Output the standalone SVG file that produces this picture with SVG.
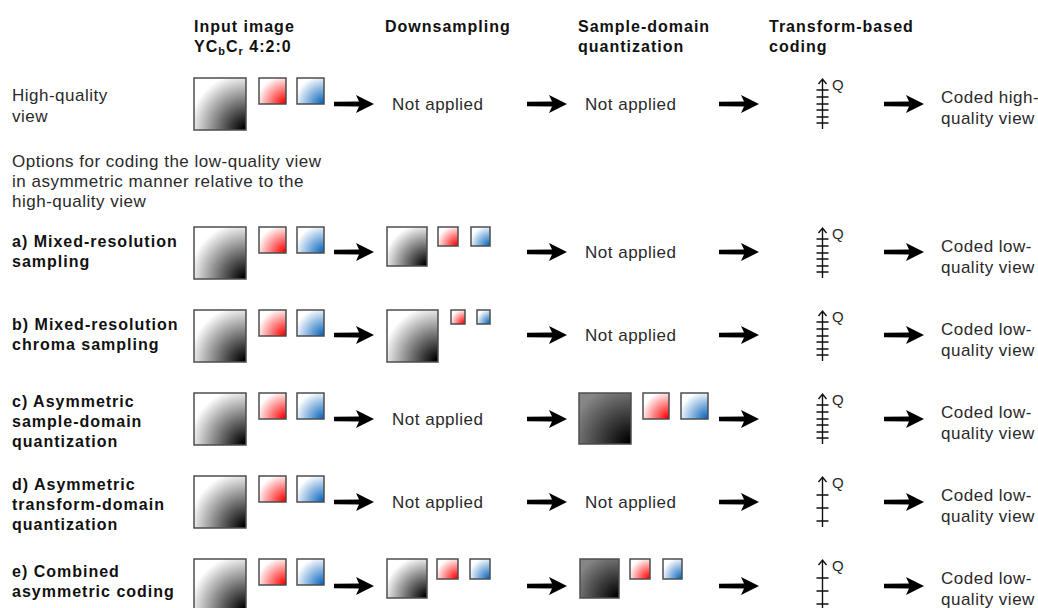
<svg xmlns="http://www.w3.org/2000/svg" width="1038" height="608" viewBox="0 0 1038 608">
  <style>
    .b { font-family: "Liberation Sans", Arial, sans-serif; font-weight: bold; font-size: 16px; letter-spacing: 1px; fill: #111; }
    .r { font-family: "Liberation Sans", Arial, sans-serif; font-size: 17px; letter-spacing: 0.5px; fill: #2a2a2a; }
    .q { font-family: "Liberation Sans", Arial, sans-serif; font-size: 15px; fill: #2a2a2a; }
    .sq { stroke: #4d4d4d; stroke-width: 1.5; }
    .lum { fill: url(#gLum); }
    .cr { fill: url(#gRed); }
    .cb { fill: url(#gBlue); }
    .dark { fill: url(#gDark); }
    .scale { stroke: #111; stroke-width: 1.4; fill: none; }
    .arrow { fill: #000; }
  </style>
  <defs>
    <radialGradient id="gLum" cx="1" cy="1" fx="1" fy="1" r="1.15">
      <stop offset="0.05" stop-color="#000"/>
      <stop offset="0.95" stop-color="#fff"/>
    </radialGradient>
    <radialGradient id="gRed" cx="1" cy="1" fx="1" fy="1" r="1.15">
      <stop offset="0.05" stop-color="#ff0000"/>
      <stop offset="0.95" stop-color="#fff"/>
    </radialGradient>
    <radialGradient id="gBlue" cx="1" cy="1" fx="1" fy="1" r="1.15">
      <stop offset="0.05" stop-color="#0a66be"/>
      <stop offset="0.95" stop-color="#fff"/>
    </radialGradient>
    <radialGradient id="gDark" cx="1" cy="1" fx="1" fy="1" r="1.2">
      <stop offset="0.05" stop-color="#000"/>
      <stop offset="1" stop-color="#868686"/>
    </radialGradient>
    <!-- thick block arrow, 40px long, pointing right from the origin -->
    <path id="arr" class="arrow" d="M0,-2.2 L25,-2.6 L22,-9 L40,0 L22,9 L25,2.6 L0,2.2 Z"/>
    <!-- fine quantizer scale (many steps) -->
    <g id="qFine" class="scale">
      <path d="M0,1 V51 M-4,6 L0,1 L4,6"/>
      <path d="M-6,12 H6 M-6,19 H6 M-6,26 H6 M-6,32 H6 M-6,39 H6 M-6,45 H6"/>
    </g>
    <!-- coarse quantizer scale (few steps) -->
    <g id="qCoarse" class="scale">
      <path d="M0,1 V51 M-4,6 L0,1 L4,6"/>
      <path d="M-6,19 H6 M-6,32 H6 M-6,45 H6"/>
    </g>
  </defs>

  <rect width="1038" height="608" fill="#fff"/>

  <!-- column headings -->
  <g id="headers">
    <text class="b" x="194" y="32">Input image</text>
    <text class="b" x="194" y="52">YC<tspan font-size="11" dy="3">b</tspan><tspan dy="-3">C</tspan><tspan font-size="11" dy="3">r</tspan><tspan dy="-3"> 4:2:0</tspan></text>
    <text class="b" x="385" y="32">Downsampling</text>
    <text class="b" x="578" y="32">Sample-domain</text>
    <text class="b" x="578" y="52">quantization</text>
    <text class="b" x="769" y="32">Transform-based</text>
    <text class="b" x="769" y="52">coding</text>
  </g>

  <!-- high-quality view -->
  <g id="row-hq">
    <g id="hq-label">
      <text class="r" x="12" y="101">High-quality</text>
      <text class="r" x="12" y="122">view</text>
    </g>
    <g id="hq-input">
      <rect class="sq lum" x="194" y="78" width="52" height="52"/>
      <rect class="sq cr" x="259" y="78" width="27" height="26"/>
      <rect class="sq cb" x="297" y="78" width="27" height="26"/>
    </g>
    <g id="hq-down"><text class="r" x="392" y="110">Not applied</text></g>
    <g id="hq-sdq"><text class="r" x="585" y="110">Not applied</text></g>
    <g id="hq-tq">
      <use href="#qFine" x="822.5" y="78"/>
      <text class="q" x="832" y="90">Q</text>
    </g>
    <g id="hq-out">
      <text class="r" x="941" y="103" letter-spacing="0.3">Coded high-</text>
      <text class="r" x="941" y="124">quality view</text>
    </g>
  </g>

  <g id="options-note">
    <text class="r" x="12" y="167">Options for coding the low-quality view</text>
    <text class="r" x="12" y="187">in asymmetric manner relative to the</text>
    <text class="r" x="12" y="207">high-quality view</text>
  </g>

  <!-- a) mixed-resolution sampling -->
  <g id="row-a">
    <g id="a-label">
      <text class="b" x="12" y="247">a) Mixed-resolution</text>
      <text class="b" x="12" y="267">sampling</text>
    </g>
    <g id="a-input">
      <rect class="sq lum" x="194" y="227" width="52" height="52"/>
      <rect class="sq cr" x="259" y="227" width="27" height="26"/>
      <rect class="sq cb" x="297" y="227" width="27" height="26"/>
    </g>
    <g id="a-down">
      <rect class="sq lum" x="387" y="227" width="40" height="39"/>
      <rect class="sq cr" x="438" y="227" width="20" height="19"/>
      <rect class="sq cb" x="471" y="227" width="19" height="19"/>
    </g>
    <g id="a-sdq"><text class="r" x="585" y="258">Not applied</text></g>
    <g id="a-tq">
      <use href="#qFine" x="822.5" y="227"/>
      <text class="q" x="832" y="239">Q</text>
    </g>
    <g id="a-out">
      <text class="r" x="941" y="252">Coded low-</text>
      <text class="r" x="941" y="273">quality view</text>
    </g>
  </g>

  <!-- b) mixed-resolution chroma sampling -->
  <g id="row-b">
    <g id="b-label">
      <text class="b" x="12" y="330">b) Mixed-resolution</text>
      <text class="b" x="12" y="350">chroma sampling</text>
    </g>
    <g id="b-input">
      <rect class="sq lum" x="194" y="310" width="52" height="52"/>
      <rect class="sq cr" x="259" y="310" width="27" height="26"/>
      <rect class="sq cb" x="297" y="310" width="27" height="26"/>
    </g>
    <g id="b-down">
      <rect class="sq lum" x="387" y="310" width="51" height="52"/>
      <rect class="sq cr" x="451" y="310" width="14" height="14"/>
      <rect class="sq cb" x="477" y="310" width="13" height="14"/>
    </g>
    <g id="b-sdq"><text class="r" x="585" y="341">Not applied</text></g>
    <g id="b-tq">
      <use href="#qFine" x="822.5" y="310"/>
      <text class="q" x="832" y="322">Q</text>
    </g>
    <g id="b-out">
      <text class="r" x="941" y="335">Coded low-</text>
      <text class="r" x="941" y="356">quality view</text>
    </g>
  </g>

  <!-- c) asymmetric sample-domain quantization -->
  <g id="row-c">
    <g id="c-label">
      <text class="b" x="12" y="407">c) Asymmetric</text>
      <text class="b" x="12" y="427">sample-domain</text>
      <text class="b" x="12" y="447">quantization</text>
    </g>
    <g id="c-input">
      <rect class="sq lum" x="194" y="393" width="52" height="52"/>
      <rect class="sq cr" x="259" y="393" width="27" height="26"/>
      <rect class="sq cb" x="297" y="393" width="27" height="26"/>
    </g>
    <g id="c-down"><text class="r" x="392" y="425">Not applied</text></g>
    <g id="c-sdq">
      <rect class="sq dark" x="579" y="393" width="52" height="51"/>
      <rect class="sq cr" x="643" y="393" width="26" height="26"/>
      <rect class="sq cb" x="681" y="393" width="27" height="26"/>
    </g>
    <g id="c-tq">
      <use href="#qFine" x="822.5" y="393"/>
      <text class="q" x="832" y="405">Q</text>
    </g>
    <g id="c-out">
      <text class="r" x="941" y="418">Coded low-</text>
      <text class="r" x="941" y="439">quality view</text>
    </g>
  </g>

  <!-- d) asymmetric transform-domain quantization -->
  <g id="row-d">
    <g id="d-label">
      <text class="b" x="12" y="490">d) Asymmetric</text>
      <text class="b" x="12" y="510">transform-domain</text>
      <text class="b" x="12" y="530">quantization</text>
    </g>
    <g id="d-input">
      <rect class="sq lum" x="194" y="476" width="52" height="52"/>
      <rect class="sq cr" x="259" y="476" width="27" height="26"/>
      <rect class="sq cb" x="297" y="476" width="27" height="26"/>
    </g>
    <g id="d-down"><text class="r" x="392" y="508">Not applied</text></g>
    <g id="d-sdq"><text class="r" x="585" y="508">Not applied</text></g>
    <g id="d-tq">
      <use href="#qCoarse" x="822.5" y="476"/>
      <text class="q" x="832" y="488">Q</text>
    </g>
    <g id="d-out">
      <text class="r" x="941" y="501">Coded low-</text>
      <text class="r" x="941" y="522">quality view</text>
    </g>
  </g>

  <!-- e) combined asymmetric coding -->
  <g id="row-e">
    <g id="e-label">
      <text class="b" x="12" y="577">e) Combined</text>
      <text class="b" x="12" y="597">asymmetric coding</text>
    </g>
    <g id="e-input">
      <rect class="sq lum" x="194" y="559" width="52" height="52"/>
      <rect class="sq cr" x="259" y="559" width="27" height="26"/>
      <rect class="sq cb" x="297" y="559" width="27" height="26"/>
    </g>
    <g id="e-down">
      <rect class="sq lum" x="387" y="559" width="40" height="39"/>
      <rect class="sq cr" x="437" y="559" width="21" height="20"/>
      <rect class="sq cb" x="470" y="559" width="20" height="20"/>
    </g>
    <g id="e-sdq">
      <rect class="sq dark" x="580" y="559" width="39" height="39"/>
      <rect class="sq cr" x="630" y="559" width="20" height="20"/>
      <rect class="sq cb" x="663" y="559" width="19" height="20"/>
    </g>
    <g id="e-tq">
      <use href="#qCoarse" x="822.5" y="559"/>
      <text class="q" x="832" y="571">Q</text>
    </g>
    <g id="e-out">
      <text class="r" x="941" y="584">Coded low-</text>
      <text class="r" x="941" y="605">quality view</text>
    </g>
  </g>

  <!-- processing-chain arrows -->
  <g id="connectors">
    <use href="#arr" x="334" y="104"/>
    <use href="#arr" x="527" y="104"/>
    <use href="#arr" x="719" y="104"/>
    <use href="#arr" x="884" y="104"/>

    <use href="#arr" x="334" y="252"/>
    <use href="#arr" x="527" y="252"/>
    <use href="#arr" x="719" y="252"/>
    <use href="#arr" x="884" y="252"/>

    <use href="#arr" x="334" y="335"/>
    <use href="#arr" x="527" y="335"/>
    <use href="#arr" x="719" y="335"/>
    <use href="#arr" x="884" y="335"/>

    <use href="#arr" x="334" y="419"/>
    <use href="#arr" x="527" y="419"/>
    <use href="#arr" x="719" y="419"/>
    <use href="#arr" x="884" y="419"/>

    <use href="#arr" x="334" y="502"/>
    <use href="#arr" x="527" y="502"/>
    <use href="#arr" x="719" y="502"/>
    <use href="#arr" x="884" y="502"/>

    <use href="#arr" x="334" y="586"/>
    <use href="#arr" x="527" y="586"/>
    <use href="#arr" x="719" y="586"/>
    <use href="#arr" x="884" y="586"/>
  </g>
</svg>
